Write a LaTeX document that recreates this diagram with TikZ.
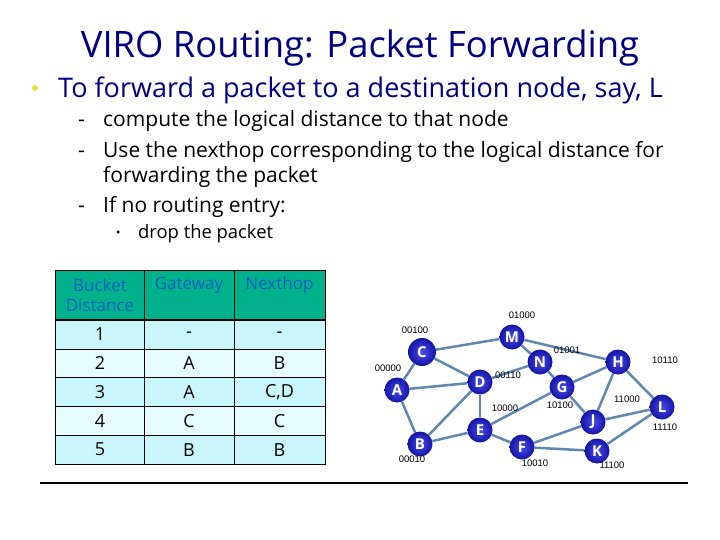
\documentclass[tikz,border=0pt]{standalone}
\usepackage{fontspec}
\setmainfont{Open Sans}
\newfontfamily\labelfont{Liberation Sans}
\usepackage{tikz}
\usetikzlibrary{positioning}
\usetikzlibrary{shapes,shapes.geometric,backgrounds}
\definecolor{titleblue}{RGB}{0,0,128}
\definecolor{headgreen}{RGB}{0,178,140}
\definecolor{headtext}{RGB}{0,95,195}
\definecolor{rowcyan}{RGB}{200,246,250}
\definecolor{rowlight}{RGB}{230,252,254}
\definecolor{linkblue}{RGB}{95,135,175}
\definecolor{nodeblue}{RGB}{20,20,165}
\definecolor{nodelight}{RGB}{75,75,235}
\definecolor{bulletyellow}{RGB}{225,225,60}
\tikzstyle{vnode} = [circle, minimum size=25pt, inner sep=0pt, shading=radial, inner color=nodelight, outer color=nodeblue, text=white, font=\bfseries\fontsize{15}{15}\selectfont]
\tikzstyle{vlabel} = [font=\labelfont\fontsize{9.5}{10}\selectfont, inner sep=0pt]
\tikzstyle{link} = [draw, linkblue, line width=2.5pt]
\tikzstyle{mainline} = [anchor=base west, inner sep=0pt, text=titleblue, font=\fontsize{27}{30}\selectfont]
\tikzstyle{subline} = [anchor=base west, inner sep=0pt, font=\fontsize{21}{25}\selectfont]
\tikzstyle{cellhead} = [text=headtext, align=center, font=\fontsize{17}{20}\selectfont]
\tikzstyle{celltext} = [font=\fontsize{18}{20}\selectfont]

\begin{document}
\begin{tikzpicture}[x=1pt, y=-1pt]
    \useasboundingbox (0,0) rectangle (720,540);
	% title and bullet text
    \node [anchor=base, inner sep=0pt, text=titleblue, font=\fontsize{36.4}{40}\selectfont] (title) at (360,58) {VIRO Routing: Packet Forwarding};
    \node [circle, fill=bulletyellow, inner sep=0pt, minimum size=6pt] (dot0) at (35,88) {};
    \node [mainline] (line0) at (58,98) {To forward a packet to a destination node, say, L};
    \node [subline] (dash1) at (78,127) {-};
    \node [subline] (line1) at (103,127) {compute the logical distance to that node};
    \node [subline] (dash2) at (78,158) {-};
    \node [subline] (line2) at (103,158) {Use the nexthop corresponding to the logical distance for};
    \node [subline] (line2b) at (103,183) {forwarding the packet};
    \node [subline] (dash3) at (78,213) {-};
    \node [subline] (line3) at (103,213) {If no routing entry:};
    \node [circle, fill=black, inner sep=0pt, minimum size=3.5pt] (dot4) at (118,232) {};
    \node [subline, font=\fontsize{18.4}{20}\selectfont] (line4) at (138,238) {drop the packet};

	% routing table
    \fill [headgreen] (55,270) rectangle (325,320);
    \foreach \d/\g/\n [count=\i] in {1/-/-, 2/A/B, 3/A/{C,D}, 4/C/C, 5/B/B} {
        \pgfmathsetmacro{\top}{320+(\i-1)*28.8}
        \pgfmathtruncatemacro{\odd}{mod(\i,2)}
        \ifnum\odd=1 \fill [rowcyan] (55,\top) rectangle (325,\top+28.8);
        \else \fill [rowlight] (55,\top) rectangle (325,\top+28.8); \fi
        \draw [thin] (55,\top) -- (325,\top);
        \node [celltext] (dist\i) at (100,\top+14.4) {\d};
        \node [celltext] (gate\i) at (189,\top+14.4) {\g};
        \node [celltext] (next\i) at (279.5,\top+14.4) {\n};
    }
    \draw [line width=2pt] (55,320) -- (325,320);
    \draw [thin] (55,270) rectangle (325,464) (144,270) -- (144,464) (234,270) -- (234,464);
    \node [cellhead] (hdist) at (100,295) {Bucket\\Distance};
    \node [cellhead] (hgate) at (189,285) {Gateway};
    \node [cellhead] (hnext) at (279.5,285) {Nexthop};

	% place nodes
    \node [vnode, minimum size=28pt] (C) at (422,352) {C};
    \node [vnode] (M) at (512,337) {M};
    \node [vnode] (N) at (540,362) {N};
    \node [vnode] (H) at (618,362) {H};
    \node [vnode] (D) at (480,382) {D};
    \node [vnode] (A) at (397,390) {A};
    \node [vnode] (G) at (562,387) {G};
    \node [vnode] (L) at (662,407) {L};
    \node [vnode] (J) at (593,422) {J};
    \node [vnode] (E) at (480,430) {E};
    \node [vnode] (B) at (420,444) {B};
    \node [vnode] (F) at (522,447) {F};
    \node [vnode] (K) at (597,451) {K};

	% draw edges
    \begin{pgfonlayer}{background}
    \path [link] (C) -- (M);
    \path [link] (C) -- (D);
    \path [link] (C) -- (A);
    \path [link] (M) -- (N);
    \path [link] (M) -- (H);
    \path [link] (N) -- (D);
    \path [link] (N) -- (G);
    \path [link] (A) -- (D);
    \path [link] (A) -- (B);
    \path [link] (D) -- (B);
    \path [link] (D) -- (E);
    \path [link] (B) -- (E);
    \path [link] (E) -- (G);
    \path [link] (E) -- (F);
    \path [link] (G) -- (H);
    \path [link] (G) -- (J);
    \path [link] (H) -- (J);
    \path [link] (H) -- (L);
    \path [link] (J) -- (L);
    \path [link] (J) -- (F);
    \path [link] (F) -- (K);
    \path [link] (K) -- (L);
    \end{pgfonlayer}

	% address labels
    \node [vlabel] (aM) at (522,315) {01000};
    \node [vlabel] (aC) at (415,330) {00100};
    \node [vlabel] (aA) at (388,368) {00000};
    \node [vlabel] (aN) at (567,350) {01001};
    \node [vlabel] (aH) at (665,360) {10110};
    \node [vlabel] (aD) at (508,375) {00110};
    \node [vlabel] (aE) at (505,408) {10000};
    \node [vlabel] (aG) at (560,405) {10100};
    \node [vlabel] (aJ) at (627,399) {11000};
    \node [vlabel] (aL) at (665,427) {11110};
    \node [vlabel] (aB) at (412,459) {00010};
    \node [vlabel] (aF) at (535,463) {10010};
    \node [vlabel] (aK) at (612,465) {11100};

    \coordinate (ruleL) at (40,483);
    \coordinate (ruleR) at (688,483);
    \draw [line width=1.2pt] (ruleL) -- (ruleR);
\end{tikzpicture}
\end{document}
